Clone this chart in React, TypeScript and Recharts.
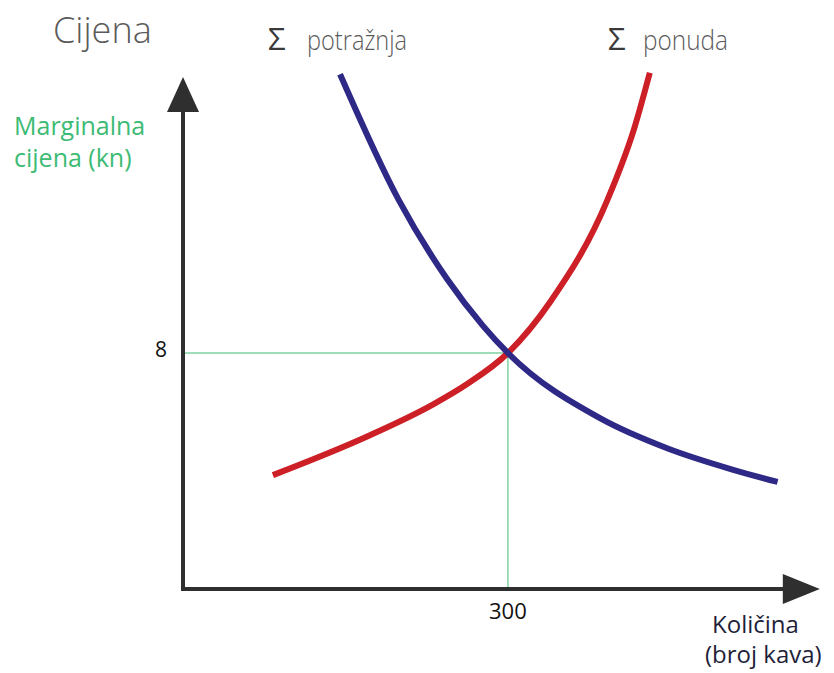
import React from 'react'
import { ComposedChart, Line, XAxis, YAxis, ReferenceLine, ReferenceDot } from 'recharts'

// quantity (broj kava) / price (kn)
const demandQty = [145, 199, 244, 277, 300, 385, 447, 508, 549]
const demandPrice = [17.45, 13.2, 10.5, 8.92, 8, 5.79, 4.77, 4.04, 3.63]
const supplyQty = [83, 170, 231, 262, 300, 339, 392, 417, 431]
const supplyPrice = [3.86, 5.17, 6.26, 6.94, 8, 9.73, 13.2, 15.66, 17.5]

const eqQty = 300
const eqPrice = 8
const xTicks = [eqQty]
const yTicks = [eqPrice]

const demand = demandQty.map((q, i) => ({ x: q, y: demandPrice[i] }))
const supply = supplyQty.map((q, i) => ({ x: q, y: supplyPrice[i] }))

const axisColor = '#2f2f2f'
const green = '#7dd3a0'
const font = '"Open Sans", sans-serif'

const ArrowRight = (p: any) => (
  <polygon points={`${p.cx},${p.cy} ${p.cx - 37},${p.cy - 15} ${p.cx - 37},${p.cy + 15}`} fill={axisColor} />
)
const ArrowUp = (p: any) => (
  <polygon points={`${p.cx},${p.cy} ${p.cx - 16},${p.cy + 35} ${p.cx + 16},${p.cy + 35}`} fill={axisColor} />
)

export default function App() {
  return (
    <div style={{ position: 'absolute', left: 0, top: 0, fontFamily: font }}>
      <ComposedChart width={834} height={673} margin={{ top: 58, right: 12, left: 123, bottom: 54 }}>
        <XAxis
          type="number"
          dataKey="x"
          domain={[0, 590]}
          ticks={xTicks}
          interval={0}
          axisLine={false}
          tickLine={false}
          tickMargin={8}
          height={30}
          tick={{ fontSize: 22, fill: '#111', fontFamily: font }}
        />
        <YAxis
          type="number"
          dataKey="y"
          domain={[0, 18]}
          ticks={yTicks}
          interval={0}
          axisLine={false}
          tickLine={false}
          tickMargin={10}
          width={60}
          tick={{ fontSize: 21, fill: '#111', fontFamily: font, dy: -3 }}
        />

        <ReferenceLine segment={[{ x: 0, y: eqPrice }, { x: eqQty, y: eqPrice }]} stroke={green} strokeWidth={1.5} />
        <ReferenceLine segment={[{ x: eqQty, y: 0 }, { x: eqQty, y: eqPrice }]} stroke={green} strokeWidth={1.5} />

        <ReferenceLine segment={[{ x: 0, y: 0 }, { x: 554, y: 0 }]} stroke={axisColor} strokeWidth={4} strokeLinecap="square" ifOverflow="visible" />
        <ReferenceLine segment={[{ x: 0, y: 0 }, { x: 0, y: 16.2 }]} stroke={axisColor} strokeWidth={4} strokeLinecap="square" ifOverflow="visible" />
        <ReferenceDot x={588} y={0} r={1} shape={ArrowRight} ifOverflow="visible" />
        <ReferenceDot x={0} y={17.36} r={1} shape={ArrowUp} ifOverflow="visible" />

        <Line data={supply} dataKey="y" type="monotone" stroke="#cc1f26" strokeWidth={6} dot={false} activeDot={false} isAnimationActive={false} />
        <Line data={demand} dataKey="y" type="monotone" stroke="#2e2886" strokeWidth={6} dot={false} activeDot={false} isAnimationActive={false} />

        <text x={53} y={43} fontSize={36} fontWeight={300} fill="#5a5a5a" fontFamily={font}>Cijena</text>
        <text x={268} y={50} fontSize={31} fill="#3a3a3a" fontFamily={font}>Σ</text>
        <text x={307} y={50} fontSize={27} fontWeight={300} fill="#5a5a5a" fontFamily={font} textLength={100} lengthAdjust="spacingAndGlyphs">potražnja</text>
        <text x={608} y={50} fontSize={31} fill="#3a3a3a" fontFamily={font}>Σ</text>
        <text x={643} y={50} fontSize={27} fontWeight={300} fill="#5a5a5a" fontFamily={font} textLength={85} lengthAdjust="spacingAndGlyphs">ponuda</text>

        <text x={14} y={135} fontSize={25} fill="#3dbb74" fontFamily={font}>Marginalna</text>
        <text x={14} y={167} fontSize={25} fill="#3dbb74" fontFamily={font}>cijena (kn)</text>

        <text x={712} y={633} fontSize={24} fill="#1f1f3a" fontFamily={font}>Količina</text>
        <text x={705} y={663} fontSize={24} fill="#1f1f3a" fontFamily={font}>(broj kava)</text>
      </ComposedChart>
    </div>
  )
}
